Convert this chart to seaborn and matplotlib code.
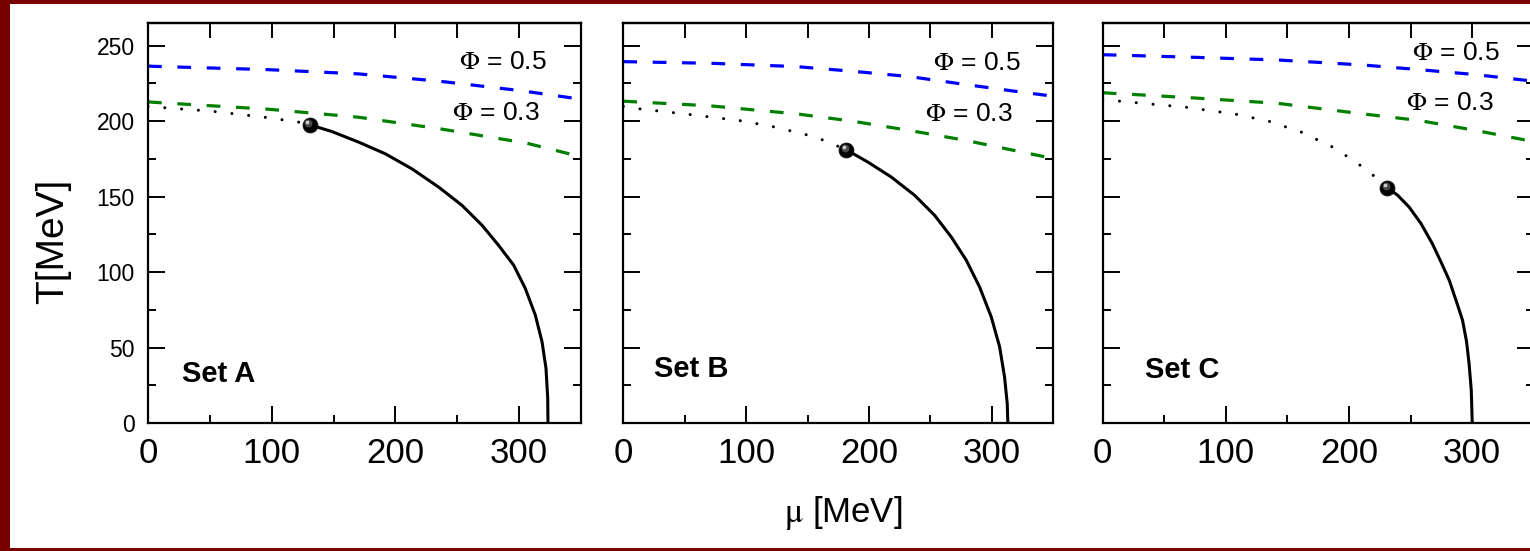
import numpy as np
import seaborn as sns
import matplotlib
matplotlib.use("Agg")
import matplotlib.pyplot as plt
from matplotlib.patches import Rectangle
from matplotlib.ticker import MultipleLocator, FixedLocator
from matplotlib.transforms import offset_copy

sns.set_style("ticks", {"axes.edgecolor": "black", "xtick.color": "black",
                        "ytick.color": "black", "text.color": "black",
                        "axes.labelcolor": "black"})
plt.rcParams["font.family"] = ["Liberation Sans", "DejaVu Sans"]
plt.rcParams["mathtext.fontset"] = "stix"

set_names = ["Set A", "Set B", "Set C"]

# Polyakov loop contours, Phi = 0.5 (mu, T in MeV)
phi05_mu_A = [0, 4, 97, 170, 236, 301, 350]
phi05_T_A = [236.5, 236.3, 234.1, 231.3, 226.4, 220.2, 214.5]
phi05_mu_B = [0, 72, 141, 187, 233, 279, 325, 350]
phi05_T_B = [239.4, 238.3, 236.1, 233.0, 229.5, 224.2, 219.1, 216.5]
phi05_mu_C = [0, 73, 142, 211, 257, 303, 345, 350]
phi05_T_C = [244.0, 242.3, 240.5, 237.2, 234.1, 230.8, 226.9, 226.4]

# Polyakov loop contours, Phi = 0.3
phi03_mu_A = [0, 4, 97, 170, 236, 306, 350]
phi03_T_A = [212.8, 212.5, 207.9, 202.6, 194.9, 185.4, 176.4]
phi03_mu_B = [0, 71, 141, 187, 233, 279, 325, 350]
phi03_T_B = [213.2, 210.1, 204.8, 199.9, 193.8, 187.2, 179.4, 175.2]
phi03_mu_C = [0, 73, 142, 211, 257, 303, 345, 350]
phi03_T_C = [218.8, 215.4, 211.8, 204.8, 200.4, 193.8, 187.2, 186.2]

# Crossover (dotted) lines up to the critical end point
cross_mu_A = [0, 52, 94, 122, 131]
cross_T_A = [209.7, 206.5, 202.6, 199.3, 197.5]
cross_mu_B = [0, 13.6, 53.7, 94.3, 121.5, 148.5, 162.1, 181.6]
cross_T_B = [209.7, 208.1, 204.4, 200.4, 196.4, 191.1, 187.6, 181.0]
cross_mu_C = [0, 14, 67.5, 108, 135, 161.3, 188.5, 214.4, 231.2]
cross_T_C = [214.1, 213.2, 209.2, 204.6, 199.9, 192.7, 182.1, 167.8, 155.9]

# First-order transition lines starting at the critical end point
first_mu_A = [131.1, 148.6, 170.2, 191.7, 213.3, 234.9, 253.8, 270.0, 283.4,
              295.6, 305.0, 313.1, 318.5, 321.7, 323.1, 323.3]
first_T_A = [197.5, 193.1, 186.1, 178.4, 168.4, 156.3, 144.2, 131.0, 117.7,
             104.5, 89.1, 71.4, 53.8, 36.2, 16.3, 0]
first_mu_B = [181.6, 199.2, 218.2, 237.2, 253.4, 267.0, 279.2, 290.0, 299.5,
              306.3, 310.3, 312.5, 313.0]
first_T_B = [181.0, 172.8, 162.9, 150.8, 137.6, 123.2, 107.8, 90.1, 70.3,
             50.5, 30.6, 13.0, 0]
first_mu_C = [231.2, 239.6, 248.8, 258.5, 267.7, 274.7, 281.4, 286.9, 292.2,
              295.5, 297.5, 299.3, 300.1]
first_T_C = [155.9, 150.8, 143.1, 132.1, 118.8, 106.7, 94.6, 81.3, 68.1,
             53.8, 39.5, 21.8, 0]

# Critical end points
cep_mu = [131.1, 181.6, 231.2]
cep_T = [197.5, 181.0, 155.9]

phi_labels = [r"$\Phi$ = 0.5", r"$\Phi$ = 0.3"]
x_ticks = [0, 100, 200, 300]

panels = [
    (phi05_mu_A, phi05_T_A, phi03_mu_A, phi03_T_A, cross_mu_A, cross_T_A, first_mu_A, first_T_A),
    (phi05_mu_B, phi05_T_B, phi03_mu_B, phi03_T_B, cross_mu_B, cross_T_B, first_mu_B, first_T_B),
    (phi05_mu_C, phi05_T_C, phi03_mu_C, phi03_T_C, cross_mu_C, cross_T_C, first_mu_C, first_T_C),
]

# label placement (mu, T) inside each panel
phi05_pos = [(251.6, 239.4), (251.8, 238.7), (251.5, 245.4)]
phi03_pos = [(246, 205.6), (245.3, 205.0), (246.6, 212.0)]
set_pos = [(27.5, 32.5), (25, 35.8), (34, 35)]

W, H = 1530, 551
fig = plt.figure(figsize=(W / 100, H / 100), dpi=100)
fig.patch.set_facecolor("white")

ax_left = [148, 623.3, 1102.7]
ax_width = [433, 430, 431]
ax_top, ax_bottom = 23, 423

dash = (0, (4.3, 4.9))
dots = (0, (0.01, 5.5))

for i, (p5m, p5t, p3m, p3t, cm, ct, fm, ft) in enumerate(panels):
    ax = fig.add_axes([ax_left[i] / W, (H - ax_bottom) / H,
                       ax_width[i] / W, (ax_bottom - ax_top) / H])
    ax.set_facecolor("white")

    sns.lineplot(x=p5m, y=p5t, ax=ax, color="#0000ff", lw=2.3,
                 linestyle=dash, estimator=None, sort=False)
    sns.lineplot(x=p3m, y=p3t, ax=ax, color="#008000", lw=2.3,
                 linestyle=dash, estimator=None, sort=False)
    sns.lineplot(x=cm, y=ct, ax=ax, color="black", lw=2.2,
                 linestyle=dots, dash_capstyle="round",
                 estimator=None, sort=False)
    sns.lineplot(x=fm, y=ft, ax=ax, color="black", lw=2.2,
                 estimator=None, sort=False, solid_joinstyle="round")

    # critical end point drawn as a shaded ball
    sns.scatterplot(x=[cep_mu[i]], y=[cep_T[i]], ax=ax, s=115, color="black",
                    edgecolor="#111111", linewidth=0.6, zorder=5)
    ax.scatter([cep_mu[i]], [cep_T[i]], s=32, color="#4a4a4a", linewidth=0,
               zorder=6, transform=offset_copy(ax.transData, fig, x=-1.8, y=1.8, units="dots"))
    ax.scatter([cep_mu[i]], [cep_T[i]], s=7, color="#cfcfcf", linewidth=0,
               zorder=7, transform=offset_copy(ax.transData, fig, x=-2.8, y=2.8, units="dots"))

    ax.set_xlim(0, 350)
    ax.set_ylim(0, 265)
    ax.set_xlabel("")
    ax.set_ylabel("")

    ax.xaxis.set_major_locator(FixedLocator(x_ticks))
    ax.xaxis.set_minor_locator(MultipleLocator(50))
    ax.yaxis.set_major_locator(MultipleLocator(50))
    ax.yaxis.set_minor_locator(MultipleLocator(25))
    ax.tick_params(which="both", direction="in", left=True, right=True,
                   bottom=True, top=False, width=1.4, color="black")
    ax.tick_params(which="major", length=12)
    ax.tick_params(which="minor", length=6)
    ax.tick_params(axis="x", which="major", labelsize=25, pad=10)
    ax.tick_params(axis="y", which="major", labelsize=16.5, pad=9.4,
                   labelleft=(i == 0))

    top = ax.secondary_xaxis("top")
    top.xaxis.set_major_locator(FixedLocator(np.arange(50, 350, 50)))
    top.tick_params(direction="in", length=11, width=1.4, labeltop=False)
    top.spines["top"].set_linewidth(1.6)

    for sp in ax.spines.values():
        sp.set_visible(True)
        sp.set_linewidth(1.6)
        sp.set_color("black")

    ax.text(*phi05_pos[i], phi_labels[0], fontsize=19, ha="left", va="center")
    ax.text(*phi03_pos[i], phi_labels[1], fontsize=19, ha="left", va="center")
    ax.text(*set_pos[i], set_names[i], fontsize=21, fontweight="bold",
            ha="left", va="center")

fig.text(53 / W, 1 - 241 / H, "T[MeV]", rotation=90, fontsize=28,
         ha="center", va="center")
fig.text(843 / W, 1 - 513 / H, r"$\mathrm{\mu}$ [MeV]", fontsize=25,
         ha="center", va="center")

# dark red frame along the top, left and bottom edges
frame = "#780000"
fig.add_artist(Rectangle((0, 1 - 4 / H), 1, 4 / H, transform=fig.transFigure,
                         facecolor=frame, edgecolor="none", zorder=20))
fig.add_artist(Rectangle((0, 0), 10 / W, 1, transform=fig.transFigure,
                         facecolor=frame, edgecolor="none", zorder=20))
fig.add_artist(Rectangle((0, 0), 1, 3 / H, transform=fig.transFigure,
                         facecolor=frame, edgecolor="none", zorder=20))

fig.savefig("out.png", dpi=100)
